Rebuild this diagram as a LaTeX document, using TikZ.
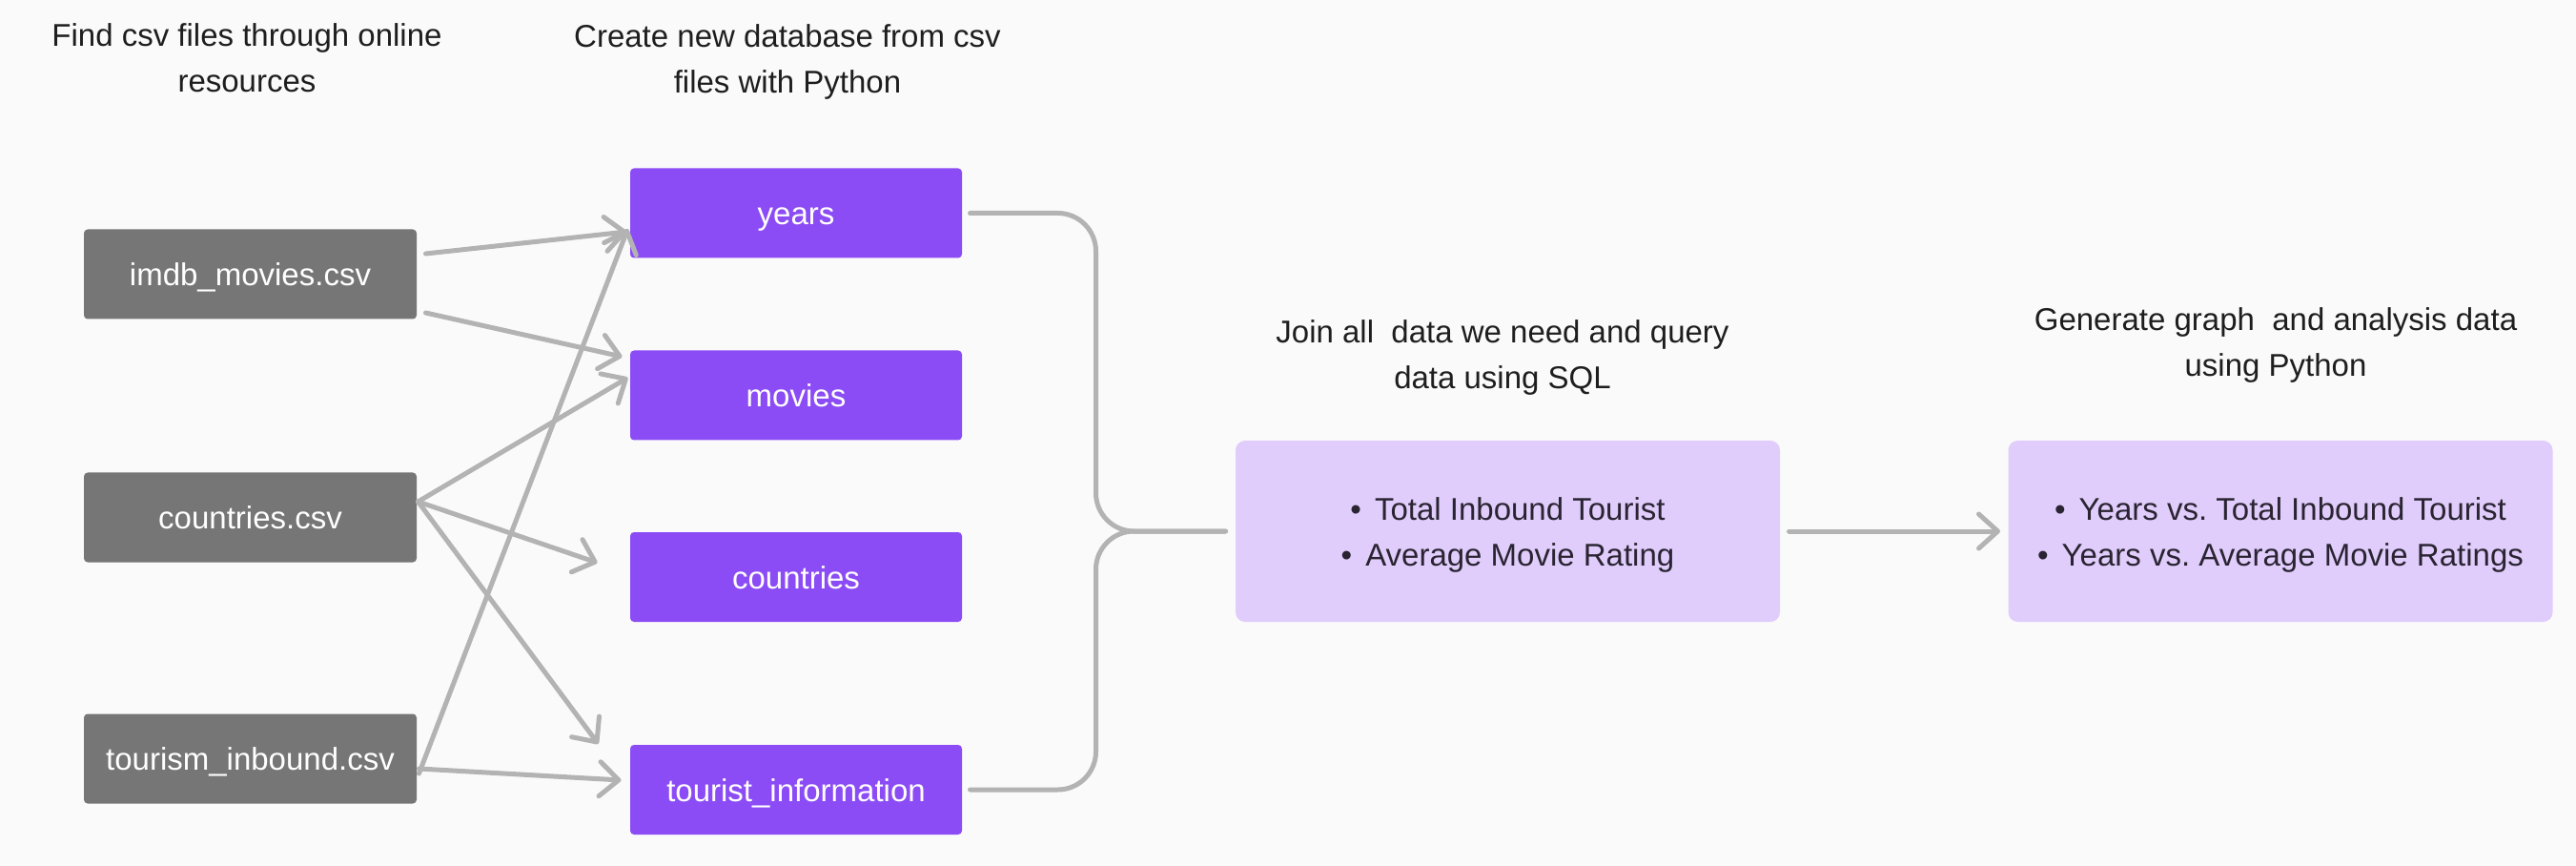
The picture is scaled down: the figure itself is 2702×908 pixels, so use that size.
\documentclass[tikz,border=0pt]{standalone}
\usepackage{fontspec}
\setmainfont{Liberation Sans}
\usepackage{tikz}
\usetikzlibrary{calc,arrows.meta}
\frenchspacing

\definecolor{pagebg}{RGB}{250,250,250}
\definecolor{csvgray}{RGB}{118,118,118}
\definecolor{dbpurple}{RGB}{140,76,245}
\definecolor{lilac}{RGB}{224,205,251}
\definecolor{wiregray}{RGB}{179,179,179}
\definecolor{inkdark}{RGB}{30,30,30}
\definecolor{inkplum}{RGB}{42,36,50}

\newcommand{\flowfont}{\fontsize{16.5pt}{24pt}\selectfont}

\tikzset{every picture/.style={line width=2.5pt}}
\tikzset{
	csvbox/.style={fill=csvgray, rounded corners=2pt, minimum width=174.5pt, minimum height=47pt, inner sep=0pt, text=white, font=\flowfont, text height=12pt, text depth=0pt},
	dbbox/.style={fill=dbpurple, rounded corners=2pt, minimum width=174pt, minimum height=47pt, inner sep=0pt, text=white, font=\flowfont, text height=12pt, text depth=0pt},
	resultbox/.style={fill=lilac, rounded corners=5pt, minimum width=285.5pt, minimum height=95pt, inner sep=0pt, align=center, text=inkplum, font=\flowfont},
	caption/.style={align=center, text=inkdark, font=\flowfont, inner sep=0pt},
	wire/.style={draw=wiregray, line width=2.5pt, line cap=round, line join=round},
	flow/.style={wire, -{Straight Barb[length=10pt,width=18pt,round]}}
}

\begin{document}
\begin{tikzpicture}[x=0.5pt,y=0.5pt,yscale=-1,xscale=1]
		%set diagram size to 2702 x 908
		\fill[pagebg] (0,0) rectangle (2702,908);
		\useasboundingbox (0,0) rectangle (2702,908);
		
		% Text Node
		\node[caption] (findcap) at (259,61) {Find csv files through online\\resources};
		% Text Node
		\node[caption] (createcap) at (826,65) {Create new database from csv\\files with Python};
		% Text Node
		\node[caption] (joincap) at (1576,375) {Join all\ \ data we need and query\\data using SQL};
		% Text Node
		\node[caption] (generatecap) at (2387,362) {Generate graph\ \ and analysis data\\using Python};
		
		%Shape: Rectangle [csv files]
		\node[csvbox] (imdb) at (262.5,287.5) {imdb\_movies.csv};
		\node[csvbox] (countriescsv) at (262.5,542.5) {countries.csv};
		\node[csvbox] (tourismcsv) at (262.5,795.5) {tourism\_inbound.csv};
		
		%Shape: Rectangle [database tables]
		\node[dbbox] (years) at (835,223.5) {years};
		\node[dbbox] (movies) at (835,414.5) {movies};
		\node[dbbox] (countries) at (835,605) {countries};
		\node[dbbox] (touristinfo) at (835,828) {tourist\_information};
		
		%Shape: Rectangle [results]
		\node[resultbox] (sqljoin) at (1581.5,557) {\rule{0pt}{16pt}\textbullet\hspace{7pt}Total Inbound Tourist\\\textbullet\hspace{7pt}Average Movie Rating};
		\node[resultbox] (pyplot) at (2392,557) {\rule{0pt}{16pt}\textbullet\hspace{7pt}Years vs. Total Inbound Tourist\\\textbullet\hspace{7pt}Years vs. Average Movie Ratings};
		
		%Straight Lines [csv -> tables]
		\draw[flow] ($(imdb.east)+(7,-21.5)$) -- ($(years.west)+(-1,19.5)$);
		\draw[flow] ($(imdb.east)+(7,40.5)$) -- ($(movies.west)+(-6,-40.5)$);
		\draw[flow] ($(countriescsv.east)+(-1,-16.5)$) -- ($(movies.west)+(0,-18.5)$);
		\draw[flow] ($(countriescsv.east)+(-1,-16.5)$) -- ($(countries.west)+(-32,-15)$);
		\draw[flow] ($(countriescsv.east)+(-1,-16.5)$) -- ($(touristinfo.west)+(-31,-48)$);
		\draw[flow] ($(tourismcsv.east)+(0,15.5)$) -- ($(years.west)+(0,16.5)$);
		\draw[flow] ($(tourismcsv.east)+(0,10.5)$) -- ($(touristinfo.west)+(-7,-10)$);
		
		%Bracket [tables -> join]
		\draw[wire, rounded corners=20pt] ($(years.east)+(6,0)$) -| ($(sqljoin.west)+(-144,0)$) -- ($(sqljoin.west)+(-8,0)$);
		\draw[wire, rounded corners=20pt] ($(touristinfo.east)+(6,0)$) -| ($(sqljoin.west)+(-144,0)$) -- ($(sqljoin.west)+(-8,0)$);
		
		%Straight Lines [join -> graphs]
		\draw[flow] ($(sqljoin.east)+(7,0)$) -- ($(pyplot.west)+(-6,0)$);
		
\end{tikzpicture}
\end{document}
